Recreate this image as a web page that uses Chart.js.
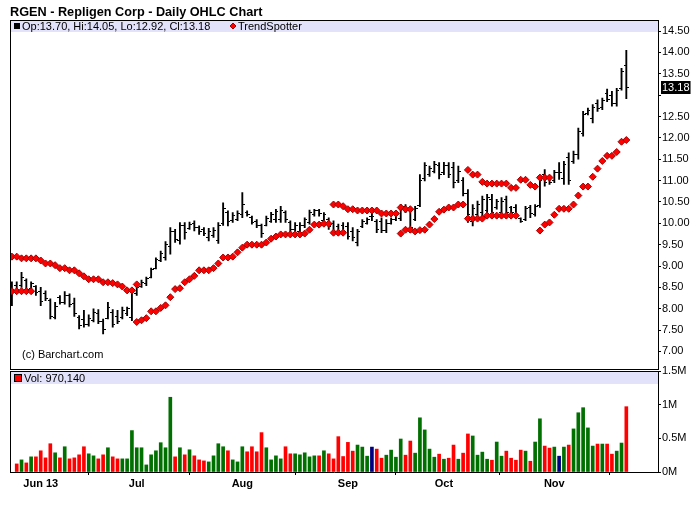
<!DOCTYPE html>
<html>
<head>
<meta charset="utf-8">
<title>RGEN - Repligen Corp - Daily OHLC Chart</title>
<script src="https://cdn.jsdelivr.net/npm/chart.js@4.4.1/dist/chart.umd.min.js"></script>
<style>
  html, body { margin: 0; padding: 0; background: #fff; }
  #wrap { position: relative; width: 700px; height: 512px; overflow: hidden; }
  #priceChart { position: absolute; left: 0; top: 0; }
  #volChart { position: absolute; left: 0; top: 358px; }
</style>
</head>
<body>
<div id="wrap">
  <canvas id="priceChart" width="700" height="377"></canvas>
  <canvas id="volChart" width="700" height="154"></canvas>
</div>
<script>
// Daily bars, May 23 - Nov 22 (one entry per trading day)
const opens = [
  8.12, 8.55, 8.55, 8.66, 8.48, 8.52, 8.40, 8.36, 8.20, 7.80,
  8.26, 8.14, 8.30, 8.12, 7.80, 7.75, 7.62, 7.72, 7.90, 7.70,
  7.78, 7.92, 7.82, 7.80, 7.88, 7.80, 8.35, 8.52, 8.58, 8.74,
  8.95, 9.14, 9.20, 9.45, 9.80, 9.60, 9.95, 9.88, 10.00, 9.90,
  9.85, 9.66, 9.72, 9.60, 10.00, 10.25, 10.06, 10.10, 10.20, 10.26,
  10.14, 10.05, 9.94, 9.96, 10.05, 10.08, 10.10, 10.25, 10.02, 9.85,
  9.80, 9.95, 10.02, 10.20, 10.30, 10.06, 10.10, 10.00, 9.92, 9.96,
  9.92, 9.82, 9.55, 9.92, 10.00, 10.15, 10.05, 10.05, 9.84, 10.00,
  10.08, 10.12, 10.40, 10.30, 10.10, 10.42, 11.05, 11.15, 11.22, 11.35,
  11.18, 11.35, 11.30, 11.00, 11.00, 10.70, 10.05, 10.20, 10.25, 10.30,
  10.55, 10.36, 10.26, 10.55, 10.36, 10.38, 10.12, 10.08, 10.38, 10.20,
  10.42, 11.15, 11.05, 11.00, 11.20, 11.05, 11.55, 11.45, 11.60, 12.10,
  12.56, 12.45, 12.80, 12.70, 13.05, 13.00, 12.80, 13.15, 13.70
];
const highs = [
  8.63, 8.63, 8.85, 8.70, 8.63, 8.54, 8.50, 8.42, 8.23, 8.15,
  8.31, 8.40, 8.35, 8.25, 7.84, 7.96, 7.86, 8.00, 7.98, 7.76,
  8.15, 7.98, 7.96, 8.04, 8.04, 8.44, 8.54, 8.67, 8.74, 8.95,
  9.19, 9.35, 9.57, 9.90, 9.86, 10.02, 10.02, 10.03, 10.06, 9.94,
  9.90, 9.88, 9.90, 10.02, 10.48, 10.29, 10.25, 10.29, 10.72, 10.29,
  10.17, 10.09, 9.98, 10.17, 10.26, 10.33, 10.40, 10.29, 10.06, 10.02,
  10.02, 10.13, 10.31, 10.33, 10.33, 10.25, 10.13, 10.06, 9.98, 10.02,
  10.02, 9.90, 9.86, 10.09, 10.13, 10.29, 10.09, 10.13, 10.09, 10.13,
  10.25, 10.44, 10.44, 10.37, 10.40, 11.14, 11.42, 11.34, 11.45, 11.42,
  11.43, 11.42, 11.43, 11.34, 11.07, 10.79, 10.44, 10.52, 10.64, 10.68,
  10.68, 10.56, 10.60, 10.64, 10.40, 10.44, 10.13, 10.40, 10.42, 10.44,
  11.10, 11.26, 11.10, 11.24, 11.42, 11.45, 11.65, 11.69, 12.23, 12.62,
  12.70, 12.78, 12.89, 12.93, 13.14, 13.09, 13.16, 13.63, 14.05
];
const lows = [
  8.07, 8.39, 8.50, 8.39, 8.46, 8.31, 8.07, 8.19, 7.76, 7.76,
  8.11, 8.11, 8.04, 7.82, 7.53, 7.57, 7.59, 7.69, 7.65, 7.41,
  7.76, 7.57, 7.65, 7.76, 7.84, 7.72, 8.31, 8.50, 8.54, 8.72,
  8.93, 9.10, 9.14, 9.28, 9.55, 9.51, 9.63, 9.86, 9.82, 9.74,
  9.71, 9.59, 9.67, 9.53, 9.95, 9.94, 10.02, 10.06, 10.13, 10.17,
  9.98, 9.90, 9.67, 9.94, 10.02, 10.02, 10.02, 10.02, 9.78, 9.82,
  9.74, 9.90, 9.98, 10.17, 10.17, 10.02, 9.86, 9.74, 9.74, 9.74,
  9.63, 9.59, 9.47, 9.90, 9.98, 10.06, 9.78, 9.78, 9.78, 9.98,
  10.06, 10.06, 10.25, 9.78, 10.06, 10.39, 10.99, 11.10, 11.18, 11.04,
  11.14, 11.07, 10.83, 10.95, 10.64, 10.02, 9.94, 10.13, 10.17, 10.25,
  10.17, 10.33, 10.21, 10.17, 10.21, 10.13, 10.02, 10.06, 10.13, 10.17,
  10.37, 10.87, 10.91, 10.95, 11.03, 10.91, 10.91, 11.40, 11.50, 12.04,
  12.54, 12.35, 12.62, 12.66, 12.85, 12.74, 12.74, 13.12, 12.92
];
const closes = [
  8.45, 8.42, 8.72, 8.45, 8.58, 8.38, 8.18, 8.24, 7.82, 8.05,
  8.14, 8.32, 8.10, 7.90, 7.60, 7.62, 7.78, 7.92, 7.70, 7.52,
  8.02, 7.62, 7.70, 7.95, 8.00, 8.38, 8.50, 8.62, 8.70, 8.92,
  9.15, 9.30, 9.50, 9.82, 9.62, 9.95, 9.78, 9.98, 9.90, 9.80,
  9.76, 9.80, 9.84, 9.96, 10.35, 10.05, 10.18, 10.22, 10.45, 10.20,
  10.02, 9.95, 9.75, 10.12, 10.20, 10.28, 10.30, 10.08, 9.85, 9.96,
  9.96, 10.08, 10.25, 10.30, 10.22, 10.20, 9.92, 9.80, 9.80, 9.82,
  9.70, 9.66, 9.80, 10.04, 10.10, 10.15, 9.86, 9.84, 10.00, 10.10,
  10.20, 10.38, 10.30, 9.90, 10.35, 11.00, 11.35, 11.28, 11.38, 11.15,
  11.36, 11.15, 10.95, 11.22, 10.70, 10.20, 10.35, 10.45, 10.55, 10.60,
  10.25, 10.50, 10.52, 10.25, 10.26, 10.20, 10.05, 10.35, 10.22, 10.40,
  11.00, 10.95, 10.95, 11.18, 11.20, 11.38, 11.00, 11.62, 12.15, 12.55,
  12.65, 12.70, 12.68, 12.88, 12.90, 12.80, 13.10, 13.55, 13.18
];
// volume in millions of shares
const volumes = [
  null, 0.12, 0.18, 0.135, 0.225, 0.225, 0.315, 0.21, 0.42, 0.285,
  0.21, 0.375, 0.195, 0.21, 0.255, 0.375, 0.27, 0.24, 0.195, 0.255,
  0.36, 0.225, 0.195, 0.195, 0.195, 0.615, 0.36, 0.36, 0.105, 0.255,
  0.315, 0.435, 0.36, 1.11, 0.225, 0.36, 0.255, 0.33, 0.24, 0.18,
  0.165, 0.15, 0.24, 0.42, 0.375, 0.315, 0.18, 0.15, 0.375, 0.30,
  0.375, 0.30, 0.585, 0.36, 0.18, 0.24, 0.195, 0.375, 0.27, 0.27,
  0.255, 0.285, 0.225, 0.24, 0.24, 0.315, 0.27, 0.195, 0.525, 0.23,
  0.44, 0.31, 0.40, 0.37, 0.235, 0.37, 0.34, 0.205, 0.25, 0.325,
  0.22, 0.49, 0.25, 0.46, 0.28, 0.805, 0.625, 0.34, 0.22, 0.265,
  0.19, 0.205, 0.40, 0.19, 0.28, 0.565, 0.535, 0.25, 0.295, 0.19,
  0.175, 0.445, 0.235, 0.31, 0.205, 0.175, 0.325, 0.31, 0.16, 0.445,
  0.79, 0.385, 0.355, 0.37, 0.235, 0.37, 0.40, 0.64, 0.88, 0.955,
  0.655, 0.385, 0.415, 0.415, 0.415, 0.265, 0.31, 0.43, 0.97014
];
// TrendSpotter stops: two runs can overlap, so two lists
const tsUpper = [
  9.22, 9.22, 9.18, 9.18, 9.18, 9.18, 9.13, 9.06, 9.06, 9.02,
  8.95, 8.95, 8.90, 8.90, 8.83, 8.76, 8.69, 8.69, 8.69, 8.62,
  8.62, 8.60, 8.57, 8.52, 8.43, 8.43, 8.57, null, null, null,
  null, null, null, null, null, null, null, null, null, null,
  null, null, null, null, null, null, null, null, null, null,
  null, null, null, null, null, null, null, null, null, null,
  null, null, null, null, null, null, null, 10.44, 10.44, 10.40,
  10.33, 10.33, 10.30, 10.30, 10.30, 10.30, 10.30, 10.23, 10.23, 10.23,
  10.23, 10.37, 10.33, 10.33, null, null, null, null, null, null,
  null, null, null, null, null, 11.25, 11.14, 11.14, 10.97, 10.93,
  10.93, 10.93, 10.93, 10.93, 10.83, 10.83, 11.02, 11.02, 10.90, 10.86,
  11.07, 11.07, 11.07, null, null, null, null, null, null, null,
  null, null, null, null, null, null, null, null, null
];
const tsLower = [
  8.41, 8.41, 8.41, 8.41, 8.41, null, null, null, null, null,
  null, null, null, null, null, null, null, null, null, null,
  null, null, null, null, null, null, 7.69, 7.73, 7.78, 7.94,
  7.94, 8.02, 8.08, 8.27, 8.46, 8.48, 8.62, 8.69, 8.77, 8.90,
  8.90, 8.90, 8.95, 9.06, 9.20, 9.20, 9.22, 9.32, 9.43, 9.50,
  9.50, 9.50, 9.50, 9.55, 9.64, 9.69, 9.74, 9.74, 9.74, 9.74,
  9.74, 9.76, 9.85, 9.97, 9.97, 9.99, 9.99, 9.78, 9.78, 9.78,
  null, null, null, null, null, null, null, null, null, null,
  null, 9.76, 9.85, 9.85, 9.81, 9.84, 9.85, 9.97, 10.10, 10.27,
  10.32, 10.37, 10.37, 10.44, 10.44, 10.11, 10.11, 10.11, 10.11, 10.18,
  10.18, 10.18, 10.18, 10.18, 10.18, 10.18, null, null, null, null,
  9.83, 9.97, 10.02, 10.20, 10.34, 10.34, 10.34, 10.44, 10.65, 10.86,
  10.86, 11.09, 11.28, 11.46, 11.58, 11.58, 11.67, 11.91, 11.95
];

// axis ticks
const monthTickAt = [6, 26, 48, 70, 90, 113];
const monthLabels = ["Jun 13", "Jul", "Aug", "Sep", "Oct", "Nov"];
const priceTicks = [7, 7.5, 8, 8.5, 9, 9.5, 10, 10.5, 11, 11.5, 12, 12.5, 13, 13.5, 14, 14.5];
const volTicks = [0, 0.5, 1, 1.5];

const FONT = "'Liberation Sans', Arial, Helvetica, sans-serif";
const BAND = "#e2e2fa";
const UP = "#007000", DOWN = "#ff0000", FLAT = "#000080";
const last = closes.length - 1;

Chart.defaults.font.family = FONT;
Chart.defaults.font.size = 11;
Chart.defaults.color = "#000";

// small open / close ticks used as point images
function tickImage(side) {
  const c = document.createElement("canvas");
  c.width = 5;
  c.height = 1;
  const g = c.getContext("2d");
  g.fillStyle = "#000";
  g.fillRect(side === "open" ? 0 : 3, 0, 2, 1);
  return c;
}

const toPoints = arr => arr.map((v, i) => ({ x: i, y: v })).filter(p => p.y !== null);

const xRange = { type: "linear", min: -0.4, max: 134.6, offset: false };

// Price panel decorations: legend band, borders, copyright, last price tag
const pricePanel = {
  id: "pricePanel",
  beforeDatasetsDraw(chart) {
    const { ctx, chartArea: a } = chart;
    ctx.save();
    ctx.fillStyle = BAND;
    ctx.fillRect(a.left, a.top, a.right - a.left, 12);
    ctx.fillStyle = "#000";
    ctx.fillRect(a.left + 4, a.top + 3, 6, 6);
    ctx.font = "11px " + FONT;
    ctx.textBaseline = "alphabetic";
    const f = v => v.toFixed(2);
    ctx.fillText("Op:" + f(opens[last]) + ", Hi:" + f(highs[last]) + ", Lo:" + f(lows[last]) + ", Cl:" + f(closes[last]),
      a.left + 12, a.top + 10);
    ctx.fillStyle = "#f00";
    ctx.strokeStyle = "#a00000";
    Chart.helpers.drawPoint(ctx, { pointStyle: "rectRot", radius: 3, borderWidth: 1 }, a.left + 223, a.top + 6);
    ctx.fillStyle = "#000";
    ctx.fillText("TrendSpotter", a.left + 228, a.top + 10);
    ctx.restore();
  },
  afterDraw(chart) {
    const { ctx, chartArea: a } = chart;
    const yb = Math.floor(a.bottom) + 0.5;
    ctx.save();
    ctx.strokeStyle = "#000";
    ctx.lineWidth = 1;
    ctx.beginPath();
    ctx.moveTo(a.left, a.top + 0.5); ctx.lineTo(a.right, a.top + 0.5);
    ctx.moveTo(a.left + 0.5, a.top); ctx.lineTo(a.left + 0.5, yb);
    ctx.moveTo(a.left, yb); ctx.lineTo(a.right, yb);
    ctx.stroke();
    ctx.font = "11px " + FONT;
    ctx.fillStyle = "#000";
    ctx.fillText("(c) Barchart.com", a.left + 12, yb - 12);
    // last close tag on the price axis
    const y = chart.scales.y.getPixelForValue(closes[last]);
    const txt = closes[last].toFixed(2);
    const w = ctx.measureText(txt).width + 2;
    ctx.fillRect(a.right + 3, Math.round(y) - 6, w, 13);
    ctx.fillStyle = "#fff";
    ctx.textBaseline = "middle";
    ctx.fillText(txt, a.right + 4, Math.round(y) + 0.5);
    ctx.restore();
  }
};

// Volume panel decorations
const volPanel = {
  id: "volPanel",
  beforeDatasetsDraw(chart) {
    const { ctx, chartArea: a } = chart;
    ctx.save();
    ctx.fillStyle = BAND;
    ctx.fillRect(a.left, a.top + 1, a.right - a.left, 12);
    ctx.fillStyle = "#f00";
    ctx.fillRect(a.left + 5, a.top + 4, 6, 6);
    ctx.strokeStyle = "#000";
    ctx.lineWidth = 1;
    ctx.strokeRect(a.left + 4.5, a.top + 3.5, 7, 7);
    ctx.fillStyle = "#000";
    ctx.font = "11px " + FONT;
    ctx.fillText("Vol: " + Math.round(volumes[last] * 1e6).toLocaleString("en-US"), a.left + 14, a.top + 11);
    ctx.restore();
  },
  afterDraw(chart) {
    const { ctx, chartArea: a } = chart;
    ctx.save();
    ctx.strokeStyle = "#000";
    ctx.lineWidth = 1;
    ctx.beginPath();
    ctx.moveTo(a.left, a.top + 0.5); ctx.lineTo(a.right, a.top + 0.5);
    ctx.moveTo(a.left + 0.5, a.top); ctx.lineTo(a.left + 0.5, a.bottom);
    ctx.stroke();
    ctx.restore();
  }
};

const tsStyle = {
  type: "scatter",
  pointStyle: "rectRot",
  pointRadius: 3.5,
  pointBackgroundColor: "#f00",
  pointBorderColor: "#a00000",
  pointBorderWidth: 1,
  order: 1
};

const priceChart = new Chart(document.getElementById("priceChart"), {
  type: "bar",
  data: {
    datasets: [
      {
        label: "High-Low",
        data: highs.map((h, i) => ({ x: i, y: [lows[i], h] })),
        backgroundColor: "#000",
        barThickness: 1.2,
        order: 3
      },
      {
        type: "scatter",
        label: "Open",
        data: toPoints(opens),
        pointStyle: tickImage("open"),
        pointRadius: 2,
        order: 2
      },
      {
        type: "scatter",
        label: "Close",
        data: toPoints(closes),
        pointStyle: tickImage("close"),
        pointRadius: 2,
        order: 2
      },
      Object.assign({ label: "TrendSpotter", data: toPoints(tsUpper) }, tsStyle),
      Object.assign({ label: "TrendSpotter", data: toPoints(tsLower) }, tsStyle)
    ]
  },
  options: {
    responsive: false,
    devicePixelRatio: 1,
    animation: false,
    layout: { padding: { left: 10, right: 0, top: 0, bottom: 0 } },
    plugins: {
      legend: { display: false },
      tooltip: { enabled: false },
      title: {
        display: true,
        text: "RGEN - Repligen Corp - Daily OHLC Chart",
        align: "start",
        color: "#000",
        font: { size: 12.7, weight: "bold" },
        padding: { top: 4.76, bottom: 0 }
      }
    },
    scales: {
      x: Object.assign({ display: false }, xRange),
      y: {
        position: "right",
        min: 6.58,
        max: 14.76,
        afterBuildTicks: s => { s.ticks = priceTicks.map(v => ({ value: v })); },
        afterFit: s => { s.width = 42; },
        grid: { drawOnChartArea: false, drawTicks: true, tickLength: 3, color: "#000" },
        border: { color: "#000", width: 1 },
        ticks: {
          padding: 1,
          color: "#000",
          font: { size: 11 },
          callback: v => (Math.abs(v - closes[last]) < 0.25 ? "" : v.toFixed(2))
        }
      }
    }
  },
  plugins: [pricePanel]
});

const volChart = new Chart(document.getElementById("volChart"), {
  type: "bar",
  data: {
    datasets: [{
      label: "Volume",
      data: toPoints(volumes),
      backgroundColor: toPoints(volumes).map(p =>
        closes[p.x] > opens[p.x] ? UP : closes[p.x] < opens[p.x] ? DOWN : FLAT),
      barThickness: 3
    }]
  },
  options: {
    responsive: false,
    devicePixelRatio: 1,
    animation: false,
    layout: { padding: { left: 10, right: 0, top: 13, bottom: 0 } },
    plugins: { legend: { display: false }, tooltip: { enabled: false } },
    scales: {
      x: Object.assign({
        afterBuildTicks: s => { s.ticks = monthTickAt.map(v => ({ value: v })); },
        afterFit: s => { s.height = 40; },
        grid: { drawOnChartArea: false, drawTicks: true, tickLength: 3, color: "#000" },
        border: { color: "#000", width: 1 },
        ticks: {
          autoSkip: false,
          maxRotation: 0,
          padding: 2,
          color: "#000",
          font: { size: 11, weight: "bold" },
          callback: (v, i) => monthLabels[i]
        }
      }, xRange),
      y: {
        position: "right",
        min: 0,
        max: 1.5,
        afterBuildTicks: s => { s.ticks = volTicks.map(v => ({ value: v })); },
        afterFit: s => { s.width = 42; },
        grid: { drawOnChartArea: false, drawTicks: true, tickLength: 3, color: "#000" },
        border: { color: "#000", width: 1 },
        ticks: { padding: 1, color: "#000", font: { size: 11 }, callback: v => v + "M" }
      }
    }
  },
  plugins: [volPanel]
});
</script>
</body>
</html>
